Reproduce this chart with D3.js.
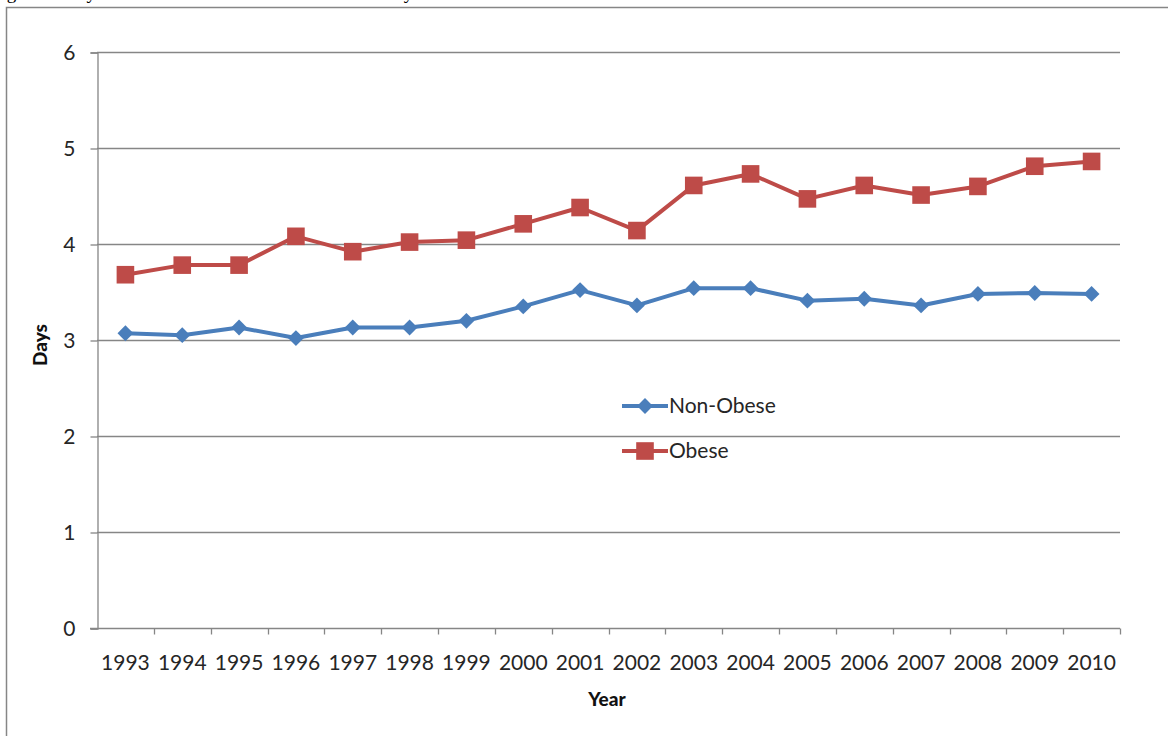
<!DOCTYPE html>
<html>
<head>
<meta charset="utf-8">
<script src="https://cdn.jsdelivr.net/npm/d3@7"></script>
<style>
  html, body { margin: 0; padding: 0; background: #fff; }
  svg { display: block; }
  text { font-family: Lato, "Open Sans", sans-serif; fill: #262626; }
</style>
</head>
<body>
<svg id="chart" width="1168" height="736"></svg>
<script>
// Average days, per year, for each group
const years = ["1993","1994","1995","1996","1997","1998","1999","2000","2001",
               "2002","2003","2004","2005","2006","2007","2008","2009","2010"];
const nonObese = [3.07, 3.05, 3.13, 3.02, 3.13, 3.13, 3.20, 3.35, 3.52,
                  3.36, 3.54, 3.54, 3.41, 3.43, 3.36, 3.48, 3.49, 3.48];
const obese    = [3.68, 3.78, 3.78, 4.08, 3.92, 4.02, 4.04, 4.21, 4.38,
                  4.14, 4.61, 4.73, 4.47, 4.61, 4.51, 4.60, 4.81, 4.86];
const yTicks = [0, 1, 2, 3, 4, 5, 6];
const seriesNames = ["Non-Obese", "Obese"];

const svg = d3.select("#chart");
const blue = "#4a7ebb", red = "#be4b48", grey = "#868686";

// caption line sitting above the chart frame (only its lowest strokes fall on the page)
svg.append("text")
  .attr("x", -9).attr("y", -1)
  .style("font-family", "'Liberation Serif', 'Times New Roman', serif")
  .style("font-size", "19px")
  .style("fill", "#000")
  .text("Figure 4. Days of Bad Mental Health in the Past 30 days");

// chart frame
svg.append("rect")
  .attr("x", 6.5).attr("y", 7.5).attr("width", 1300).attr("height", 900)
  .attr("fill", "#fff").attr("stroke", grey).attr("stroke-width", 1.5);

const plotL = 97, plotR = 1120, plotT = 52, plotB = 628;

const x = d3.scaleBand().domain(years).range([plotL, plotR]);
const y = d3.scaleLinear().domain([0, 6]).range([plotB, plotT]);

// horizontal gridlines
svg.append("g")
  .selectAll("line").data(yTicks.filter(d => d > 0)).join("line")
  .attr("x1", plotL).attr("x2", plotR)
  .attr("y1", d => Math.round(y(d)) + 0.5).attr("y2", d => Math.round(y(d)) + 0.5)
  .attr("stroke", grey).attr("stroke-width", 1.3);

// y axis
const yAxis = svg.append("g")
  .attr("transform", `translate(${plotL + 0.5},0.5)`)
  .call(d3.axisLeft(y).tickValues(yTicks).tickSize(7).tickPadding(15).tickFormat(d3.format("d")));
yAxis.select(".domain").attr("stroke", grey).attr("stroke-width", 1.3);
yAxis.selectAll(".tick line").attr("stroke", grey).attr("stroke-width", 1.3);
yAxis.selectAll(".tick text").style("font-size", "21px").attr("fill", "#262626")
  .style("font-family", "Lato, sans-serif");

// x axis: ticks sit between categories
const xAxis = svg.append("g")
  .attr("transform", `translate(0,${plotB + 0.5})`);
xAxis.append("line")
  .attr("x1", plotL - 7).attr("x2", plotR).attr("y1", 0).attr("y2", 0)
  .attr("stroke", grey).attr("stroke-width", 1.3);
const bounds = years.map(d => x(d)).concat([plotR]);
xAxis.selectAll("line.tk").data(bounds.slice(1)).join("line")
  .attr("class", "tk")
  .attr("x1", d => Math.round(d) + 0.5).attr("x2", d => Math.round(d) + 0.5)
  .attr("y1", 0).attr("y2", 6)
  .attr("stroke", grey).attr("stroke-width", 1.3);
xAxis.selectAll("text").data(years).join("text")
  .attr("x", d => x(d) + x.bandwidth() / 2)
  .attr("y", 41)
  .attr("text-anchor", "middle")
  .style("font-size", "21px")
  .text(d => d);

// axis titles
svg.append("text")
  .attr("transform", "translate(47,345) rotate(-90)")
  .attr("text-anchor", "middle")
  .style("font-size", "19px").style("font-weight", "900").style("fill", "#111")
  .text("Days");
svg.append("text")
  .attr("x", 607).attr("y", 706)
  .attr("text-anchor", "middle")
  .style("font-size", "19px").style("font-weight", "900").style("fill", "#111")
  .text("Year");

const cx = d => x(d) + x.bandwidth() / 2;
const line = d3.line().x(d => cx(d.year)).y(d => y(d.value));

const diamond = d3.symbol().type(d3.symbolDiamond2).size(160);
const square = d3.symbol().type(d3.symbolSquare).size(310);

function drawSeries(values, color, symbolGen) {
  const pts = years.map((yr, i) => ({ year: yr, value: values[i] }));
  svg.append("path").datum(pts)
    .attr("d", line)
    .attr("fill", "none").attr("stroke", color)
    .attr("stroke-width", 4).attr("stroke-linejoin", "round");
  svg.append("g").selectAll("path").data(pts).join("path")
    .attr("transform", d => `translate(${cx(d.year)},${y(d.value)})`)
    .attr("d", symbolGen)
    .attr("fill", color);
}

drawSeries(obese, red, square);
drawSeries(nonObese, blue, diamond);

// legend
const legend = [
  { name: seriesNames[0], color: blue, sym: diamond, ly: 406 },
  { name: seriesNames[1], color: red, sym: square, ly: 451 }
];
const lg = svg.append("g");
legend.forEach(l => {
  lg.append("line").attr("x1", 622).attr("x2", 668).attr("y1", l.ly).attr("y2", l.ly)
    .attr("stroke", l.color).attr("stroke-width", 4);
  lg.append("path").attr("transform", `translate(645,${l.ly})`).attr("d", l.sym).attr("fill", l.color);
  lg.append("text").attr("x", 669).attr("y", l.ly + 7)
    .style("font-size", "21px").text(l.name);
});
</script>
</body>
</html>
